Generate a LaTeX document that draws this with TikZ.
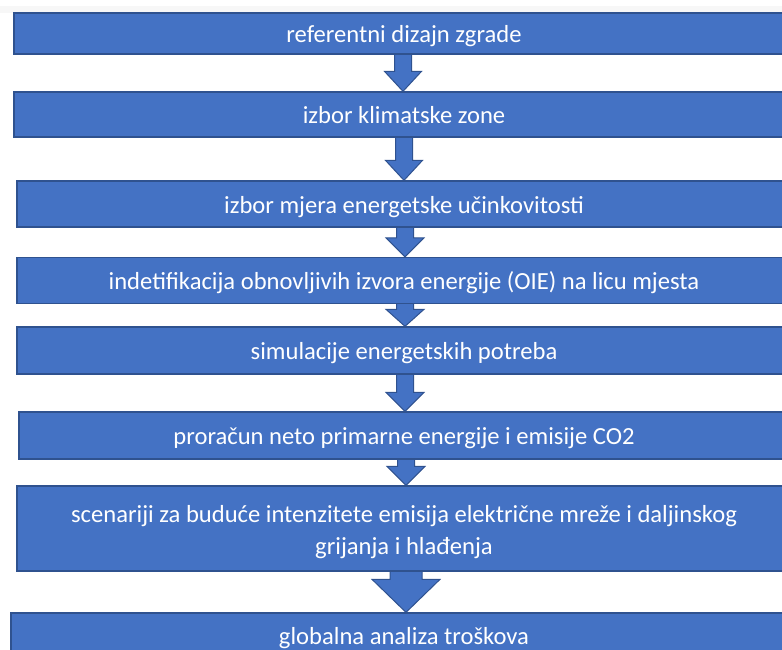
\documentclass[tikz,border=0pt]{standalone}
\usepackage{fontspec}
\setmainfont{Carlito}
\usetikzlibrary{calc,backgrounds}
\definecolor{boxfill}{HTML}{4472C4}
\definecolor{boxline}{HTML}{2F528F}
\definecolor{strip}{HTML}{F7F7F7}
\tikzset{
  stepbox/.style={rectangle, fill=boxfill, draw=boxline, line width=1.3pt,
    text=white, font=\fontsize{24.6}{32}\selectfont, align=center, inner sep=0pt,
    text height=18.5pt, text depth=0pt},
  steptext/.style={text=white, font=\fontsize{24.6}{32}\selectfont, align=center, inner sep=0pt},
  blockarrow/.style={fill=boxfill, draw=boxline, line width=1pt, line join=miter}
}
% from, to, xshift, head length, stem half width, head half width
\newcommand{\flowarrow}[6]{%
  \draw[blockarrow] let \p1=(#1.south), \p2=(#2.north) in
    (\x1+#3-#5,\y1+3pt) -- (\x1+#3-#5,\y2+#4) -- (\x1+#3-#6,\y2+#4) --
    (\x1+#3,\y2) -- (\x1+#3+#6,\y2+#4) -- (\x1+#3+#5,\y2+#4) --
    (\x1+#3+#5,\y1+3pt);
}
\begin{document}
\begin{tikzpicture}[x=1pt,y=-1pt]
  \useasboundingbox (0,0) rectangle (782,650);
  \clip (0,0) rectangle (782,650);
  \node[stepbox, minimum width=780pt, minimum height=41pt] (s1) at (404,33.5) {referentni dizajn zgrade};
  \node[stepbox, minimum width=780pt, minimum height=45pt] (s2) at (404,114.5) {izbor klimatske zone};
  \node[stepbox, minimum width=774pt, minimum height=46pt] (s3) at (404,204) {izbor mjera energetske učinkovitosti};
  \node[stepbox, minimum width=774pt, minimum height=46pt] (s4) at (404,280.5) {indetifikacija obnovljivih izvora energije (OIE) na licu mjesta};
  \node[stepbox, minimum width=774pt, minimum height=47pt] (s5) at (404,350.5) {simulacije energetskih potreba};
  \node[stepbox, minimum width=770pt, minimum height=47pt] (s6) at (404,435.5) {proračun neto primarne energije i emisije CO2};
  \node[stepbox, minimum width=774pt, minimum height=85pt] (s7) at (404,528.5) {};
  \node[steptext] (s7t) at ($(s7.center)+(0,4)$) {scenariji za buduće intenzitete emisija električne mreže i daljinskog\\grijanja i hlađenja};
  \node[stepbox, minimum width=786pt, minimum height=47pt, text height=16pt] (s8) at (404,636.5) {globalna analiza troškova};
  \begin{scope}[on background layer]
    \fill[strip] (0,6) rectangle (782,13);
    \flowarrow{s1}{s2}{-1pt}{20pt}{8.5pt}{18.5pt}
    \flowarrow{s2}{s3}{0pt}{20pt}{8.5pt}{18.5pt}
    \flowarrow{s3}{s4}{1pt}{19pt}{8.5pt}{19pt}
    \flowarrow{s4}{s5}{1pt}{17pt}{8.5pt}{19pt}
    \flowarrow{s5}{s6}{1pt}{19pt}{8.5pt}{19pt}
    \flowarrow{s6}{s7}{2pt}{19pt}{8.5pt}{19pt}
    \flowarrow{s7}{s8}{2pt}{33pt}{16pt}{34pt}
  \end{scope}
\end{tikzpicture}
\end{document}
